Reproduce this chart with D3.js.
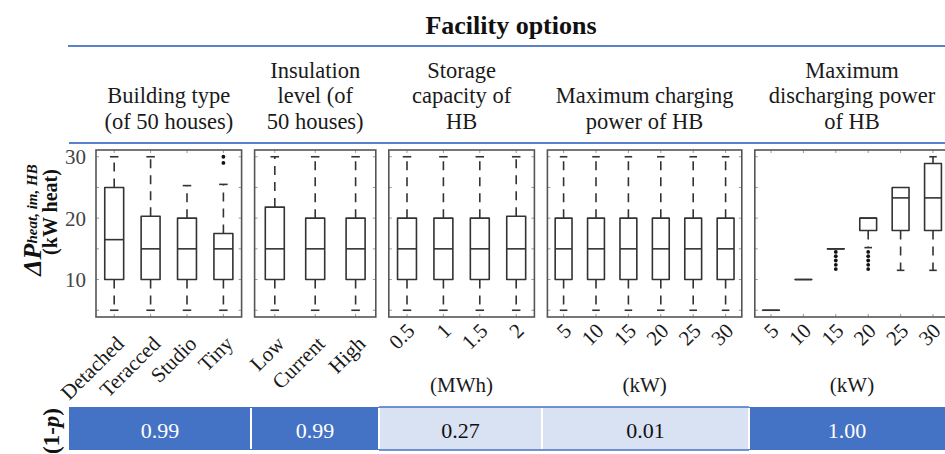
<!DOCTYPE html>
<html>
<head>
<meta charset="utf-8">
<script src="https://cdn.jsdelivr.net/npm/d3@7"></script>
<style>
  body { margin: 0; background: #fff; }
  svg { display: block; }
  text { font-family: "Liberation Serif", "Times New Roman", serif; }
</style>
</head>
<body>
<svg id="chart" width="945" height="454"></svg>
<script>
// ---- factor groups -------------------------------------------------------
const groupHeaders = [
  ["Building type", "(of 50 houses)"],
  ["Insulation", "level (of", "50 houses)"],
  ["Storage", "capacity of", "HB"],
  ["Maximum charging", "power of HB"],
  ["Maximum", "discharging power", "of HB"]
];
const groupUnits = ["", "", "(MWh)", "(kW)", "(kW)"];

const buildingTypes    = ["Detached", "Teracced", "Studio", "Tiny"];
const insulationLevels = ["Low", "Current", "High"];
const storageCapacity  = ["0.5", "1", "1.5", "2"];
const chargingPower    = ["5", "10", "15", "20", "25", "30"];
const dischargingPower = ["5", "10", "15", "20", "25", "30"];

// box statistics per level: [lower whisker, Q1, median, Q3, upper whisker]
const buildingStats = [
  [5, 10, 16.5, 25, 30],
  [5, 10, 15, 20.3, 30],
  [5, 10, 15, 20, 25.3],
  [5, 10, 15, 17.5, 25.5]
];
const insulationStats = [
  [5, 10, 15, 21.8, 30],
  [5, 10, 15, 20, 30],
  [5, 10, 15, 20, 30]
];
const storageStats = [
  [5, 10, 15, 20, 30],
  [5, 10, 15, 20, 30],
  [5, 10, 15, 20, 30],
  [5, 10, 15, 20.3, 30]
];
const chargingStats = [
  [5, 10, 15, 20, 30],
  [5, 10, 15, 20, 30],
  [5, 10, 15, 20, 30],
  [5, 10, 15, 20, 30],
  [5, 10, 15, 20, 30],
  [5, 10, 15, 20, 30]
];
const dischargingStats = [
  [5, 5, 5, 5, 5],
  [10, 10, 10, 10, 10],
  [15, 15, 15, 15, 15],
  [15.2, 18, 20, 20, 20],
  [11.5, 18, 23.3, 25, 25],
  [11.5, 18, 23.3, 28.9, 30]
];

// points beyond the whiskers
const buildingOutliers    = [[], [], [], [29, 30]];
const insulationOutliers  = [[], [], []];
const storageOutliers     = [[], [], [], []];
const chargingOutliers    = [[], [], [], [], [], []];
const dischargingOutliers = [[], [], [14.5, 13.8, 13.1, 12.4, 11.7], [14.5, 13.8, 13.1, 12.4, 11.7], [], []];

// significance (1 - p) of each factor
const pValues = [0.99, 0.99, 0.27, 0.01, 1.00];

const yTicks = [10, 20, 30];

// ---- assemble groups ----------------------------------------------------
const groups = [
  { levels: buildingTypes,    stats: buildingStats,    outliers: buildingOutliers },
  { levels: insulationLevels, stats: insulationStats,  outliers: insulationOutliers },
  { levels: storageCapacity,  stats: storageStats,     outliers: storageOutliers },
  { levels: chargingPower,    stats: chargingStats,    outliers: chargingOutliers },
  { levels: dischargingPower, stats: dischargingStats, outliers: dischargingOutliers }
].map((g, i) => ({ ...g, header: groupHeaders[i], unit: groupUnits[i], p: pValues[i] }));

// ---- layout -------------------------------------------------------------
const svg = d3.select("#chart");
const W = 945;
const panelTop = 150, panelBottom = 317;
const firstPanelX = 96, panelGap = 13;
const perLevel = 24.4, panelPad = 48;
const cellEdges = [69, 251, 379, 542, 749, 945];
const ruleColor = "#5A82CC";
const darkBlue = "#4472C4", lightBlue = "#D9E2F3";
const ink = "#333";
const textInk = "#1a1a1a";

let xCursor = firstPanelX;
groups.forEach(g => {
  const w = perLevel * g.levels.length + panelPad;
  g.x0 = xCursor; g.x1 = xCursor + w;
  g.x = d3.scaleBand().domain(g.levels).range([g.x0, g.x1]).paddingInner(0).paddingOuter(0);
  xCursor = g.x1 + panelGap;
});

const y = d3.scaleLinear().domain([3.9, 31.1]).range([panelBottom, panelTop]);

// ---- title and header rules --------------------------------------------
svg.append("text")
  .attr("x", 511).attr("y", 34)
  .attr("text-anchor", "middle")
  .attr("font-size", 26).attr("font-weight", "bold").attr("fill", "#111")
  .text("Facility options");

svg.append("line").attr("x1", 68).attr("x2", W).attr("y1", 46).attr("y2", 46)
  .attr("stroke", ruleColor).attr("stroke-width", 2);
svg.append("line").attr("x1", 69).attr("x2", W).attr("y1", 143).attr("y2", 143)
  .attr("stroke", ruleColor).attr("stroke-width", 2);

// column headers, bottom-aligned above the lower rule
const lineH = 25.5, lastBaseline = 128.5;
groups.forEach(g => {
  const cx = (g.x0 + g.x1) / 2;
  const t = svg.append("text")
    .attr("text-anchor", "middle").attr("font-size", 22.5).attr("fill", textInk);
  g.header.forEach((line, k) => {
    t.append("tspan").attr("x", cx)
      .attr("y", lastBaseline - (g.header.length - 1 - k) * lineH)
      .text(line);
  });
});

// ---- y axis labels ------------------------------------------------------
svg.append("g")
  .selectAll("text").data(yTicks).join("text")
  .attr("x", 86).attr("y", d => y(d))
  .attr("dy", "0.35em")
  .attr("text-anchor", "end")
  .attr("font-size", 21).attr("fill", "#444")
  .text(d => d);

const yTitle = svg.append("text")
  .attr("transform", "translate(41,220) rotate(-90)")
  .attr("text-anchor", "middle")
  .attr("font-weight", "bold").attr("font-style", "italic").attr("fill", "#111");
yTitle.append("tspan").attr("font-size", 26).text("ΔP");
yTitle.append("tspan").attr("font-size", 15).attr("dy", -4).text("heat, im, HB");

svg.append("text")
  .attr("transform", "translate(57,212) rotate(-90)")
  .attr("text-anchor", "middle")
  .attr("font-size", 20).attr("font-weight", "bold").attr("fill", "#111")
  .text("(kW heat)");

// ---- box plot panels ----------------------------------------------------
const tickSteps = [5, 10, 15, 20, 25, 30];
const isNumeric = l => !isNaN(+l);

groups.forEach(g => {
  const panel = svg.append("g");
  const bw = Math.min(19, g.x.bandwidth() * 0.52);
  const capW = bw * 0.45;

  // small ticks along the frame
  const tk = panel.append("g").attr("stroke", "#999").attr("stroke-width", 1);
  g.levels.forEach(l => {
    const cx = g.x(l) + g.x.bandwidth() / 2;
    tk.append("line").attr("x1", cx).attr("x2", cx).attr("y1", panelTop).attr("y2", panelTop + 3);
    tk.append("line").attr("x1", cx).attr("x2", cx).attr("y1", panelBottom).attr("y2", panelBottom - 3);
  });
  tickSteps.forEach(v => {
    tk.append("line").attr("x1", g.x0).attr("x2", g.x0 + 3).attr("y1", y(v)).attr("y2", y(v));
    tk.append("line").attr("x1", g.x1).attr("x2", g.x1 - 3).attr("y1", y(v)).attr("y2", y(v));
  });

  panel.append("rect")
    .attr("x", g.x0).attr("y", panelTop)
    .attr("width", g.x1 - g.x0).attr("height", panelBottom - panelTop)
    .attr("fill", "none").attr("stroke", "#555").attr("stroke-width", 1.6);

  g.levels.forEach((l, i) => {
    const [lo, q1, med, q3, hi] = g.stats[i];
    const cx = g.x(l) + g.x.bandwidth() / 2;
    const b = panel.append("g").attr("stroke", ink).attr("stroke-width", 1.6).attr("fill", "none");

    // dashed whiskers, drawn outward from the box
    if (hi > q3) {
      b.append("line").attr("x1", cx).attr("x2", cx).attr("y1", y(q3)).attr("y2", y(hi))
        .attr("stroke-dasharray", "9,7");
      b.append("line").attr("x1", cx - capW / 2).attr("x2", cx + capW / 2)
        .attr("y1", y(hi)).attr("y2", y(hi));
    }
    if (lo < q1) {
      b.append("line").attr("x1", cx).attr("x2", cx).attr("y1", y(q1)).attr("y2", y(lo))
        .attr("stroke-dasharray", "9,7");
      b.append("line").attr("x1", cx - capW / 2).attr("x2", cx + capW / 2)
        .attr("y1", y(lo)).attr("y2", y(lo));
    }

    // box (as a path so a collapsed box still shows as a line)
    b.append("path")
      .attr("d", `M${cx - bw / 2},${y(q3)}H${cx + bw / 2}V${y(q1)}H${cx - bw / 2}Z`)
      .attr("stroke-linejoin", "round");
    b.append("line").attr("x1", cx - bw / 2).attr("x2", cx + bw / 2)
      .attr("y1", y(med)).attr("y2", y(med));

    panel.append("g").selectAll("circle").data(g.outliers[i]).join("circle")
      .attr("cx", cx).attr("cy", d => y(d)).attr("r", 1.9).attr("fill", "#111");

    // rotated level label (numbers sit a little higher than words)
    const num = isNumeric(l);
    panel.append("text")
      .attr("transform", `translate(${cx + (num ? 9 : 11)},${num ? 332 : 345}) rotate(-45)`)
      .attr("text-anchor", "end")
      .attr("font-size", 21).attr("fill", textInk)
      .text(l);
  });

  if (g.unit) {
    svg.append("text")
      .attr("x", (g.x0 + g.x1) / 2).attr("y", 392)
      .attr("text-anchor", "middle").attr("font-size", 21).attr("fill", textInk)
      .text(g.unit);
  }
});

// ---- significance row ---------------------------------------------------
const cellTop = 407, cellBottom = 450;
const cells = svg.append("g");
groups.forEach((g, i) => {
  const xa = cellEdges[i], xb = cellEdges[i + 1];
  const strong = g.p >= 0.95;
  cells.append("rect")
    .attr("x", xa).attr("y", cellTop).attr("width", xb - xa).attr("height", cellBottom - cellTop)
    .attr("fill", strong ? darkBlue : lightBlue);
  if (!strong) {
    cells.append("line").attr("x1", xa).attr("x2", xb).attr("y1", cellTop).attr("y2", cellTop)
      .attr("stroke", darkBlue).attr("stroke-width", 1.5);
    cells.append("line").attr("x1", xa).attr("x2", xb).attr("y1", cellBottom).attr("y2", cellBottom)
      .attr("stroke", darkBlue).attr("stroke-width", 1.5);
  }
  cells.append("text")
    .attr("x", (xa + xb) / 2).attr("y", 437.5)
    .attr("text-anchor", "middle").attr("font-size", 22)
    .attr("fill", strong ? "#fff" : "#111")
    .text(d3.format(".2f")(g.p));
});
// white separators between cells
cells.selectAll("line.sep").data(cellEdges.slice(1, -1)).join("line")
  .attr("class", "sep")
  .attr("x1", d => d).attr("x2", d => d)
  .attr("y1", cellTop + 1).attr("y2", cellBottom - 1)
  .attr("stroke", "#fff").attr("stroke-width", 2);

const pLabel = svg.append("text")
  .attr("transform", "translate(59,431) rotate(-90)")
  .attr("text-anchor", "middle")
  .attr("font-size", 23).attr("font-weight", "bold").attr("fill", "#111");
pLabel.append("tspan").text("(1-");
pLabel.append("tspan").attr("font-style", "italic").text("p");
pLabel.append("tspan").text(")");
</script>
</body>
</html>
